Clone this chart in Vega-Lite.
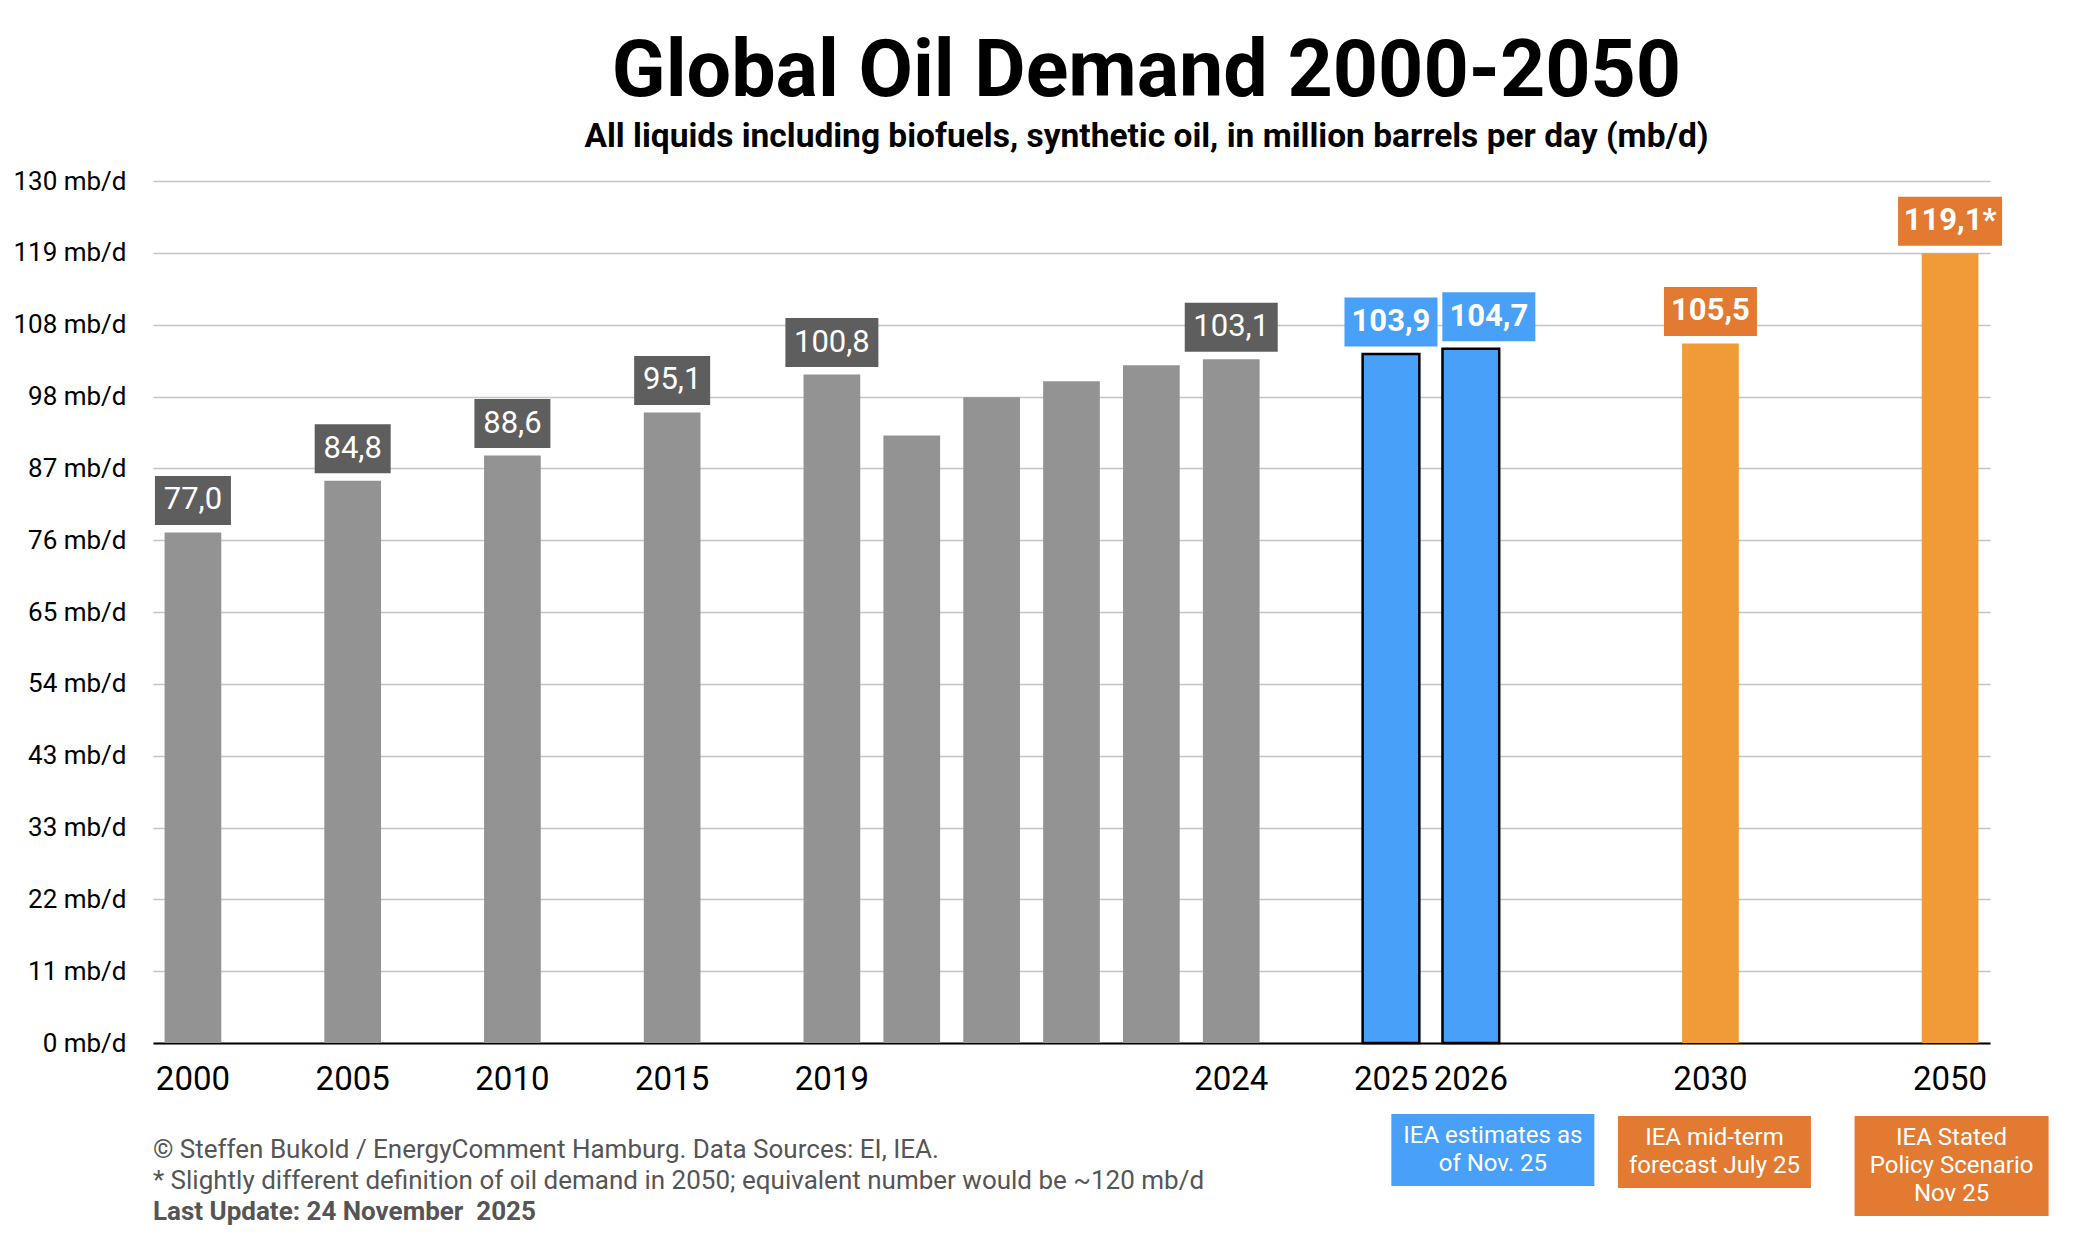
{
  "$schema": "https://vega.github.io/schema/vega-lite/v6.json",
  "autosize": {"type": "none"},
  "width": 1837,
  "height": 862,
  "padding": {"left": 153, "top": 181, "right": 96, "bottom": 201},
  "background": "white",
  "config": {"view": {"stroke": null}, "font": "Roboto"},
  "title": {
    "text": "Global Oil Demand 2000-2050",
    "subtitle": "All liquids including biofuels, synthetic oil, in million barrels per day (mb/d)",
    "font": "Roboto", "fontSize": 79, "fontWeight": "bold", "color": "#000000",
    "subtitleFont": "Roboto", "subtitleFontSize": 33.5, "subtitleFontWeight": "bold", "subtitleColor": "#000000",
    "anchor": "middle", "dx": 75, "offset": 14, "subtitlePadding": 8
  },
  "data": {"values": [
    {"slot": "2000", "value": 77.0, "group": "hist", "label": "77,0", "credit": ["© Steffen Bukold / EnergyComment Hamburg. Data Sources: EI, IEA.", "* Slightly different definition of oil demand in 2050; equivalent number would be ~120 mb/d"], "update": "Last Update: 24 November\u00a0 2025"},
    {"slot": "2005", "value": 84.8, "group": "hist", "label": "84,8"},
    {"slot": "2010", "value": 88.6, "group": "hist", "label": "88,6"},
    {"slot": "2015", "value": 95.1, "group": "hist", "label": "95,1"},
    {"slot": "2019", "value": 100.8, "group": "hist", "label": "100,8"},
    {"slot": "2020", "value": 91.6, "group": "hist", "label": null},
    {"slot": "2021", "value": 97.4, "group": "hist", "label": null},
    {"slot": "2022", "value": 99.8, "group": "hist", "label": null},
    {"slot": "2023", "value": 102.2, "group": "hist", "label": null},
    {"slot": "2024", "value": 103.1, "group": "hist", "label": "103,1"},
    {"slot": "2025", "value": 103.9, "group": "iea", "label": "103,9"},
    {"slot": "2026", "value": 104.7, "group": "iea", "label": "104,7", "note": ["IEA estimates as", "of Nov. 25"]},
    {"slot": "2030", "value": 105.5, "group": "mid", "label": "105,5", "note": ["IEA mid-term", "forecast July 25"]},
    {"slot": "2050", "value": 119.1, "group": "weo", "label": "119,1*", "note": ["IEA Stated", "Policy Scenario", "Nov 25"]}
  ]},
  "encoding": {
    "x": {
      "field": "slot", "type": "nominal", "sort": null,
      "scale": {
        "domain": ["2000", "g1", "2005", "g2", "2010", "g3", "2015", "g4", "2019", "2020", "2021", "2022", "2023", "2024", "g5", "2025", "2026", "g6", "g7", "2030", "g8", "g9", "2050"],
        "paddingInner": 0.29, "paddingOuter": 0.145
      },
      "axis": {
        "title": null,
        "labelExpr": "indexof(['2000','2005','2010','2015','2019','2024','2025','2026','2030','2050'], datum.value) >= 0 ? datum.value : ''",
        "labelAngle": 0, "labelFont": "Roboto", "labelFontSize": 33, "labelColor": "#000000",
        "labelPadding": 20, "ticks": false, "tickSize": 0, "labelOverlap": false, "labelFlush": false,
        "domainColor": "#000000", "domainWidth": 2, "grid": false
      }
    },
    "y": {
      "field": "value", "type": "quantitative",
      "scale": {"domain": [0, 130], "nice": false, "zero": true},
      "axis": {
        "title": null,
        "values": [0, 10.8333333, 21.6666667, 32.5, 43.3333333, 54.1666667, 65, 75.8333333, 86.6666667, 97.5, 108.3333333, 119.1666667, 130],
        "labelExpr": "format(datum.value, '.0f') + ' mb/d'",
        "labelFont": "Roboto", "labelFontSize": 26, "labelColor": "#000000", "labelPadding": 27,
        "ticks": false, "tickSize": 0, "domain": false,
        "grid": true, "gridColor": "#c4c4c4", "gridWidth": 1.3
      }
    }
  },
  "layer": [
    {
      "mark": {"type": "bar", "stroke": "#000000"},
      "encoding": {
        "color": {"field": "group", "type": "nominal", "scale": {"domain": ["hist", "iea", "mid", "weo"], "range": ["#939393", "#48a0f8", "#f09a38", "#f09a38"]}, "legend": null},
        "strokeWidth": {"condition": {"test": "datum.group === 'iea'", "value": 2.5}, "value": 0}
      }
    },
    {
      "transform": [{"filter": "datum.label != null && datum.slot != '2026'"}],
      "mark": {"type": "point", "filled": true, "opacity": 1, "size": 10000, "strokeWidth": 0, "yOffset": -32},
      "encoding": {
        "fill": {"field": "group", "type": "nominal", "scale": {"domain": ["hist", "iea", "mid", "weo"], "range": ["#5e5e5e", "#48a0f8", "#e27a31", "#e27a31"]}, "legend": null},
        "shape": {"condition": [
          {"test": "length(datum.label) == 4", "value": "M-0.76,-0.49H0.76V0.49H-0.76Z"},
          {"test": "length(datum.label) == 6", "value": "M-1.04,-0.49H1.04V0.49H-1.04Z"}
        ], "value": "M-0.93,-0.49H0.93V0.49H-0.93Z"}
      }
    },
    {
      "transform": [{"filter": "datum.slot == '2026'"}],
      "mark": {"type": "point", "filled": true, "opacity": 1, "size": 10000, "strokeWidth": 0, "yOffset": -32, "xOffset": 18, "shape": "M-0.93,-0.49H0.93V0.49H-0.93Z", "fill": "#48a0f8"}
    },
    {
      "transform": [{"filter": "datum.label != null && datum.group == 'hist'"}],
      "mark": {"type": "text", "color": "#ffffff", "font": "Roboto", "fontSize": 31, "fontWeight": "normal", "baseline": "middle", "align": "center", "yOffset": -32},
      "encoding": {"text": {"field": "label"}}
    },
    {
      "transform": [{"filter": "datum.group != 'hist' && datum.slot != '2026'"}],
      "mark": {"type": "text", "color": "#ffffff", "font": "Roboto", "fontSize": 31, "fontWeight": "bold", "baseline": "middle", "align": "center", "yOffset": -32},
      "encoding": {"text": {"field": "label"}}
    },
    {
      "transform": [{"filter": "datum.slot == '2026'"}],
      "mark": {"type": "text", "color": "#ffffff", "font": "Roboto", "fontSize": 31, "fontWeight": "bold", "baseline": "middle", "align": "center", "yOffset": -32, "xOffset": 18},
      "encoding": {"text": {"field": "label"}}
    },
    {
      "transform": [{"filter": "datum.slot == '2026'"}],
      "mark": {"type": "point", "filled": true, "opacity": 1, "size": 10000, "strokeWidth": 0, "shape": "M-2.03,-0.72H2.03V0.72H-2.03Z", "fill": "#48a0f8", "xOffset": 22, "yOffset": 107},
      "encoding": {"y": {"datum": 0}}
    },
    {
      "transform": [{"filter": "datum.slot == '2026'"}],
      "mark": {"type": "text", "color": "#ffffff", "font": "Roboto", "fontSize": 24, "lineHeight": 28, "align": "center", "baseline": "middle", "xOffset": 22, "yOffset": 93},
      "encoding": {"y": {"datum": 0}, "text": {"field": "note"}}
    },
    {
      "transform": [{"filter": "datum.slot == '2030'"}],
      "mark": {"type": "point", "filled": true, "opacity": 1, "size": 10000, "strokeWidth": 0, "shape": "M-1.93,-0.72H1.93V0.72H-1.93Z", "fill": "#e27a31", "xOffset": 4, "yOffset": 109},
      "encoding": {"y": {"datum": 0}}
    },
    {
      "transform": [{"filter": "datum.slot == '2030'"}],
      "mark": {"type": "text", "color": "#ffffff", "font": "Roboto", "fontSize": 24, "lineHeight": 28, "align": "center", "baseline": "middle", "xOffset": 4, "yOffset": 95},
      "encoding": {"y": {"datum": 0}, "text": {"field": "note"}}
    },
    {
      "transform": [{"filter": "datum.slot == '2050'"}],
      "mark": {"type": "point", "filled": true, "opacity": 1, "size": 10000, "strokeWidth": 0, "shape": "M-1.94,-1H1.94V1H-1.94Z", "fill": "#e27a31", "xOffset": 1.5, "yOffset": 123},
      "encoding": {"y": {"datum": 0}}
    },
    {
      "transform": [{"filter": "datum.slot == '2050'"}],
      "mark": {"type": "text", "color": "#ffffff", "font": "Roboto", "fontSize": 24, "lineHeight": 28, "align": "center", "baseline": "middle", "xOffset": 1.5, "yOffset": 95},
      "encoding": {"y": {"datum": 0}, "text": {"field": "note"}}
    },
    {
      "transform": [{"filter": "datum.slot == '2000'"}],
      "mark": {"type": "text", "color": "#555555", "font": "Roboto", "fontSize": 26, "lineHeight": 30.5, "align": "left", "baseline": "alphabetic", "xOffset": -40, "yOffset": 115},
      "encoding": {"y": {"datum": 0}, "text": {"field": "credit"}}
    },
    {
      "transform": [{"filter": "datum.slot == '2000'"}],
      "mark": {"type": "text", "color": "#555555", "font": "Roboto", "fontSize": 26, "fontWeight": "bold", "align": "left", "baseline": "alphabetic", "xOffset": -40, "yOffset": 176.5},
      "encoding": {"y": {"datum": 0}, "text": {"field": "update"}}
    }
  ]
}
